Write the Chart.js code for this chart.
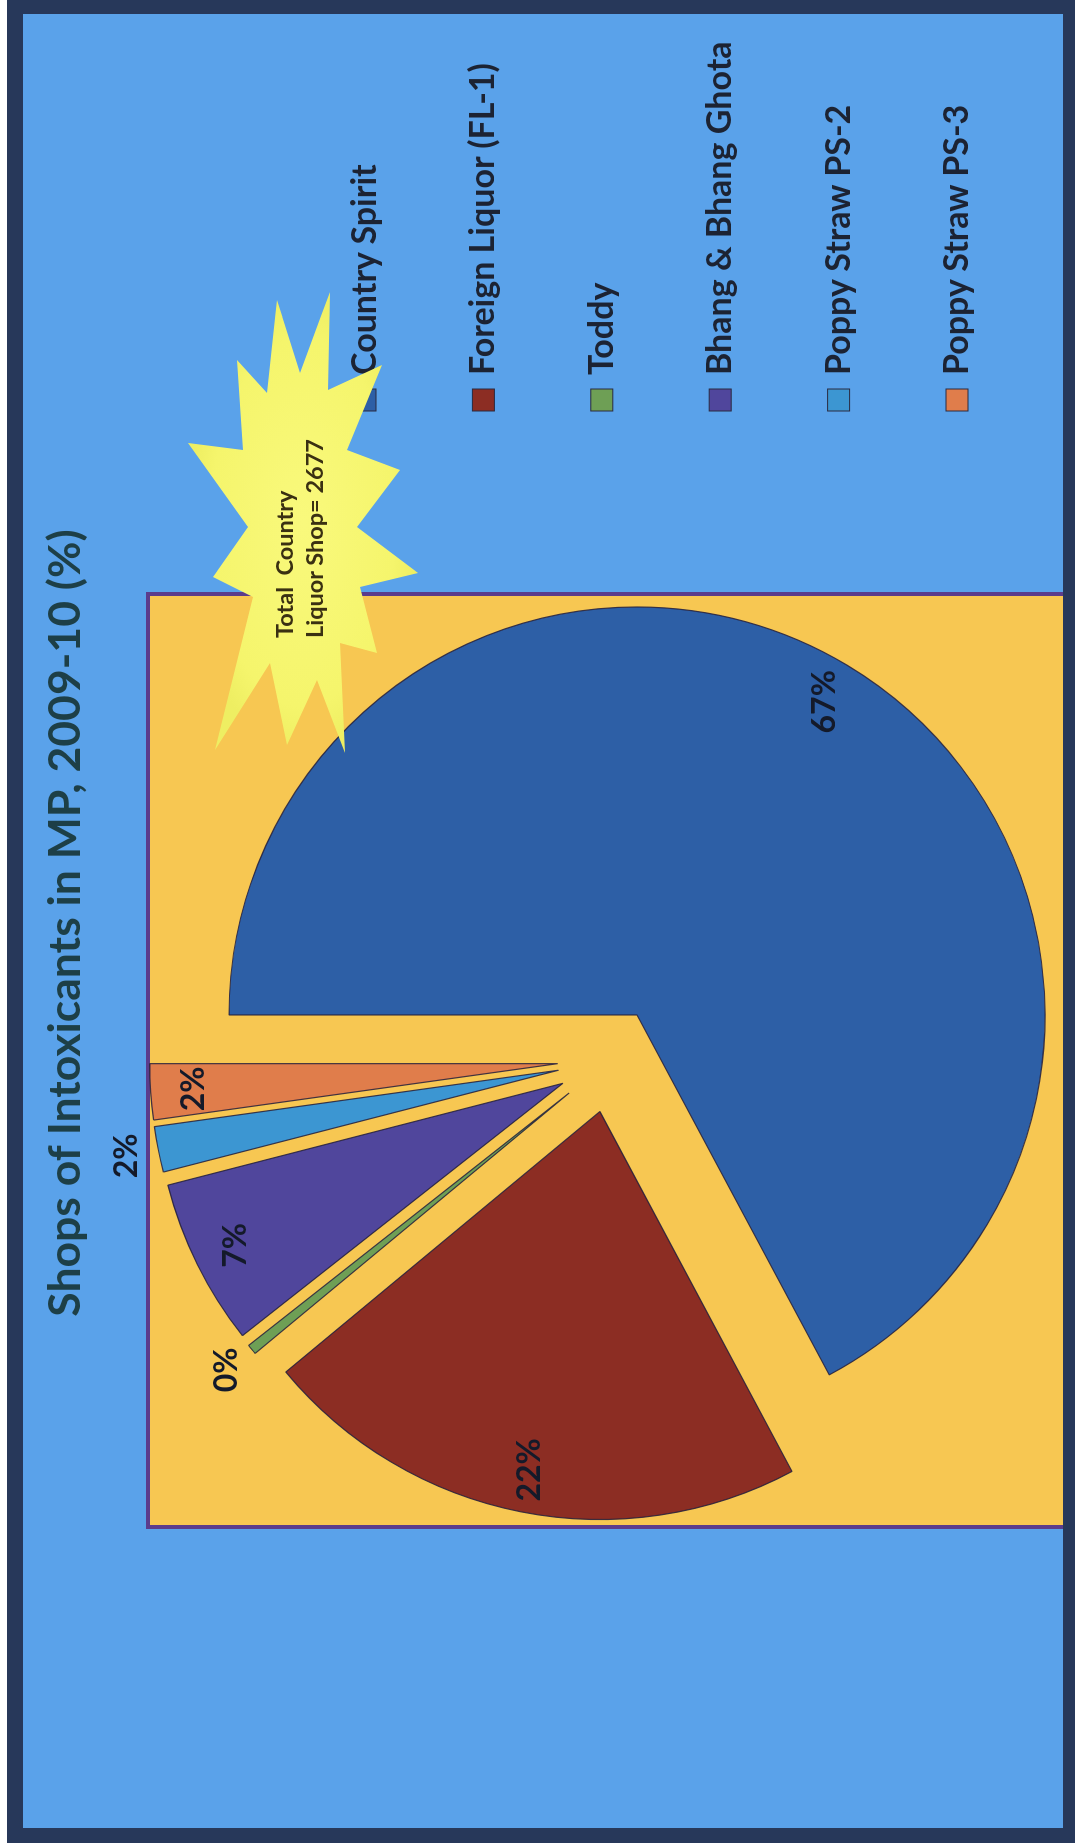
<!DOCTYPE html>
<html>
<head>
<meta charset="utf-8">
<script src="https://cdn.jsdelivr.net/npm/chart.js@4.4.0/dist/chart.umd.min.js"></script>
<style>
html,body{margin:0;padding:0;background:#ffffff;width:1075px;height:1846px;overflow:hidden;}
#frame{position:absolute;left:7px;top:0;width:1068px;height:1843px;background:#27385a;}
#inner{position:absolute;left:23px;top:14px;width:1040px;height:1814px;background:#5aa2ea;}
#rot{position:absolute;left:0;top:0;width:1846px;height:1075px;transform-origin:0 0;transform:translateY(1846px) rotate(-90deg);}
#plot{position:absolute;left:317px;top:146px;width:937px;height:917px;box-sizing:border-box;background:#f7c752;border:4px solid #5b3c8c;border-bottom:none;}
#c{position:absolute;left:0;top:0;}
#ov{position:absolute;left:0;top:0;}
</style>
</head>
<body>
<div id="frame"></div>
<div id="inner"></div>
<div id="rot">
  <div id="plot"></div>
  <canvas id="c" width="1846" height="1075"></canvas>
  <svg id="ov" width="1846" height="1075" xmlns="http://www.w3.org/2000/svg"></svg>
</div>
<script>
// ---- data ----
const titleText = 'Shops of Intoxicants in MP, 2009-10 (%)';
const categories = ['Country Spirit', 'Foreign Liquor (FL-1)', 'Toddy', 'Bhang & Bhang Ghota', 'Poppy Straw PS-2', 'Poppy Straw PS-3'];
const shopCounts = [2677, 868, 16, 263, 72, 88];
const sliceColors = ['#2d5fa6', '#8c2d23', '#6e9f55', '#50469c', '#3c96d2', '#e07d4b'];
const calloutLines = ['Total  Country', 'Liquor Shop= 2677'];

const FONT = 'Lato, "Open Sans", sans-serif';
const total = shopCounts.reduce((a, b) => a + b, 0);

// explode all slices and draw the percentage labels
const explodePlugin = {
  id: 'explode',
  beforeDatasetsDraw(chart, args, opts) {
    const ca = chart.chartArea;
    const cx = (ca.left + ca.right) / 2, cy = (ca.top + ca.bottom) / 2;
    chart.getDatasetMeta(0).data.forEach(arc => {
      const mid = (arc.startAngle + arc.endAngle) / 2;
      arc.x = cx + Math.cos(mid) * opts.distance;
      arc.y = cy + Math.sin(mid) * opts.distance;
    });
  },
  afterDatasetsDraw(chart, args, opts) {
    const ctx = chart.ctx;
    const ds = chart.data.datasets[0];
    ctx.save();
    ctx.font = 'bold 32px ' + FONT;
    ctx.fillStyle = '#141a2a';
    ctx.textAlign = 'center';
    ctx.textBaseline = 'middle';
    chart.getDatasetMeta(0).data.forEach((arc, i) => {
      const pct = ds.data[i] / total * 100;
      const mid = (arc.startAngle + arc.endAngle) / 2;
      const k = pct < 2 ? 1.08 : 0.895;
      const x = arc.x + Math.cos(mid) * arc.outerRadius * k;
      const y = arc.y + Math.sin(mid) * arc.outerRadius * k;
      ctx.fillText(Math.round(pct) + '%', x, y);
    });
    ctx.restore();
  }
};

new Chart(document.getElementById('c'), {
  type: 'pie',
  data: {
    labels: categories,
    datasets: [{
      data: shopCounts,
      backgroundColor: sliceColors,
      borderColor: 'rgba(35,30,60,0.85)',
      borderWidth: 1.2
    }]
  },
  options: {
    responsive: false,
    animation: false,
    devicePixelRatio: 1,
    radius: 408,
    events: [],
    layout: { padding: { left: 356, right: 630, top: 180, bottom: 35 } },
    plugins: {
      legend: { display: false },
      title: { display: false },
      tooltip: { enabled: false },
      explode: { distance: 52.5 }
    }
  },
  plugins: [explodePlugin]
});

// ---- title, legend, callout (SVG text) ----
const NS = 'http://www.w3.org/2000/svg';
const ov = document.getElementById('ov');
function el(tag, attrs, text) {
  const e = document.createElementNS(NS, tag);
  for (const k in attrs) e.setAttribute(k, attrs[k]);
  if (text !== undefined) e.textContent = text;
  ov.appendChild(e);
  return e;
}
el('text', { x: 923, y: 80, 'text-anchor': 'middle', 'font-family': FONT, 'font-weight': 'bold', 'font-size': 44.5, fill: '#1d3f47' }, titleText);

categories.forEach((name, i) => {
  const c = 365 + i * 118.4;
  el('rect', { x: 1435, y: c - 11, width: 22, height: 22, fill: sliceColors[i], stroke: '#2a2a40', 'stroke-width': 1 });
  el('text', { x: 1471, y: c + 11, 'font-family': FONT, 'font-weight': 'bold', 'font-size': 34, fill: '#1c2333' }, name);
});

// callout starburst
const star = [[1554,330],[1456,328],[1481,382],[1396,347],[1376,400],[1319,357],[1273,418],[1259,360],[1193,377],[1203,340],[1093,345],[1166,317],[1101,287],[1183,270],[1096,215],[1249,253],[1269,213],[1319,248],[1403,188],[1396,243],[1486,237],[1453,267],[1546,277],[1473,300]];
const defs = el('defs', {});
const g = document.createElementNS(NS, 'radialGradient');
g.setAttribute('id', 'sg');
g.innerHTML = '<stop offset="0" stop-color="#f9f97c"/><stop offset="0.8" stop-color="#f5f56c"/><stop offset="1" stop-color="#eeee62"/>';
defs.appendChild(g);
el('polygon', { points: star.map(p => p.join(',')).join(' '), fill: 'url(#sg)' });
calloutLines.forEach((t, i) => {
  el('text', { x: 1208, y: 293 + i * 30, 'font-family': FONT, 'font-weight': 'bold', 'font-size': 23.5, fill: '#3a3012', style: 'white-space:pre' }, t);
});
</script>
</body>
</html>
